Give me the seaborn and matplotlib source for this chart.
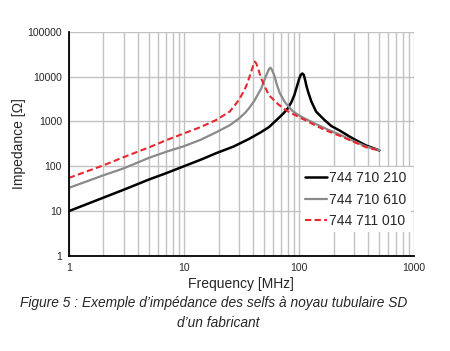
import numpy as np
import pandas as pd
import matplotlib
matplotlib.use("Agg")
import matplotlib.pyplot as plt
import seaborn as sns
from matplotlib.ticker import LogLocator, FixedLocator, NullFormatter

# values (frequency in MHz, impedance in ohm)
freq_210 = [1, 2, 3, 5, 7, 10, 14, 19, 27, 37, 47, 55, 62, 68, 74, 80, 86, 91, 96, 101,
            104, 107, 110, 113, 116, 120, 128, 141, 167, 191, 230, 275, 320, 384, 450, 500]
imp_210 = [10, 20, 30, 51, 70, 100, 140, 195, 275, 410, 580, 750, 1000, 1250, 1550, 1950,
           2700, 3800, 6000, 9300, 11000, 11700, 11000, 8500, 6300, 4600, 2800, 1650, 1070,
           790, 610, 460, 370, 290, 250, 225]

freq_610 = [1, 2, 3, 5, 7, 10, 14, 19, 25, 30, 34, 37, 41, 44, 47, 50, 53, 55, 56.5,
            58, 61, 64, 68, 75, 86, 95, 105, 137, 180, 230, 275, 384, 450, 500]
imp_610 = [33, 63, 90, 155, 210, 280, 390, 570, 820, 1150, 1550, 2000, 2900, 4000, 5400,
           8300, 12000, 14800, 15800, 14300, 10700, 6800, 4300, 2750, 1800, 1480, 1270, 900,
           650, 500, 400, 275, 245, 230]

freq_010 = [1, 2, 3, 5, 7, 10, 14, 19, 25, 27, 30, 32.5, 34.7, 37, 38.5, 40, 41.5, 42.8,
            44, 47, 50, 55, 59, 66, 72, 80, 88, 105, 115, 137, 167, 230, 275, 384, 450, 500]
imp_010 = [55, 105, 160, 265, 380, 540, 750, 1070, 1650, 2100, 3000, 4300, 6000, 9500,
           13000, 17500, 21500, 19000, 15500, 9000, 6300, 3800, 3200, 2400, 2050, 1680, 1480,
           1170, 1050, 830, 650, 470, 385, 265, 240, 230]

labels = ["744 710 210", "744 710 610", "744 711 010"]

df = pd.concat([
    pd.DataFrame({"f": freq_210, "z": imp_210, "ref": labels[0]}),
    pd.DataFrame({"f": freq_610, "z": imp_610, "ref": labels[1]}),
    pd.DataFrame({"f": freq_010, "z": imp_010, "ref": labels[2]}),
])

sns.set_style("white")
plt.rcParams["font.family"] = ["Liberation Sans", "DejaVu Sans"]

fig = plt.figure(figsize=(4.5, 3.51), dpi=100)
ax = fig.add_axes([0.153, 0.2707, 0.767, 0.639])

colors = {labels[0]: "#000000", labels[1]: "#8a8a8a", labels[2]: "#e8282e"}
widths = {labels[0]: 1.8, labels[1]: 1.6, labels[2]: 1.5}
for lab in labels:
    sub = df[df["ref"] == lab]
    sns.lineplot(data=sub, x="f", y="z", ax=ax, color=colors[lab],
                 linewidth=widths[lab], label=lab, estimator=None, sort=False)
ax.lines[2].set_dashes([3, 1.6])

ax.set_xscale("log")
ax.set_yscale("log")
ax.set_xlim(1, 1000)
ax.set_ylim(1, 100000)

ax.xaxis.set_major_locator(FixedLocator([1, 10, 100, 1000]))
ax.xaxis.set_minor_locator(LogLocator(base=10, subs=np.arange(2, 10)))
ax.xaxis.set_minor_formatter(NullFormatter())
ax.yaxis.set_major_locator(FixedLocator([1, 10, 100, 1000, 10000, 100000]))
ax.yaxis.set_minor_locator(FixedLocator([]))
ax.set_xticklabels(["1", "10", "100", "1000"])
ax.set_yticklabels(["1", "10", "100", "1000", "10000", "100000"])
ax.tick_params(which="both", length=0, labelsize=7.5, pad=5)

ax.grid(True, which="both", axis="x", color="#c2c2c2", linewidth=1.0)
ax.grid(True, which="major", axis="y", color="#c2c2c2", linewidth=1.0)
ax.set_axisbelow(True)

for s in ["top", "right"]:
    ax.spines[s].set_visible(False)
for s in ["left", "bottom"]:
    ax.spines[s].set_color("black")
    ax.spines[s].set_linewidth(1.3)

ax.set_xlabel("Frequency [MHz]", fontsize=10, labelpad=3)
ax.set_ylabel("Impedance [\u03a9]", fontsize=10, labelpad=1)

leg = ax.legend(loc="lower right", bbox_to_anchor=(0.99, 0.105), fontsize=10,
                frameon=True, fancybox=False, handlelength=1.6, handletextpad=0.15,
                labelspacing=0.55, borderpad=0.3, borderaxespad=0)
leg.get_frame().set_facecolor("white")
leg.get_frame().set_edgecolor("none")
leg.get_frame().set_alpha(1)

fig.text(0.475, 0.136, "Figure 5 : Exemple d\u2019imp\u00e9dance des selfs \u00e0 noyau tubulaire SD",
         ha="center", va="center", fontsize=9.9, style="italic")
fig.text(0.485, 0.079, "d\u2019un fabricant", ha="center", va="center", fontsize=9.9,
         style="italic")

fig.savefig("out.png", dpi=100)
